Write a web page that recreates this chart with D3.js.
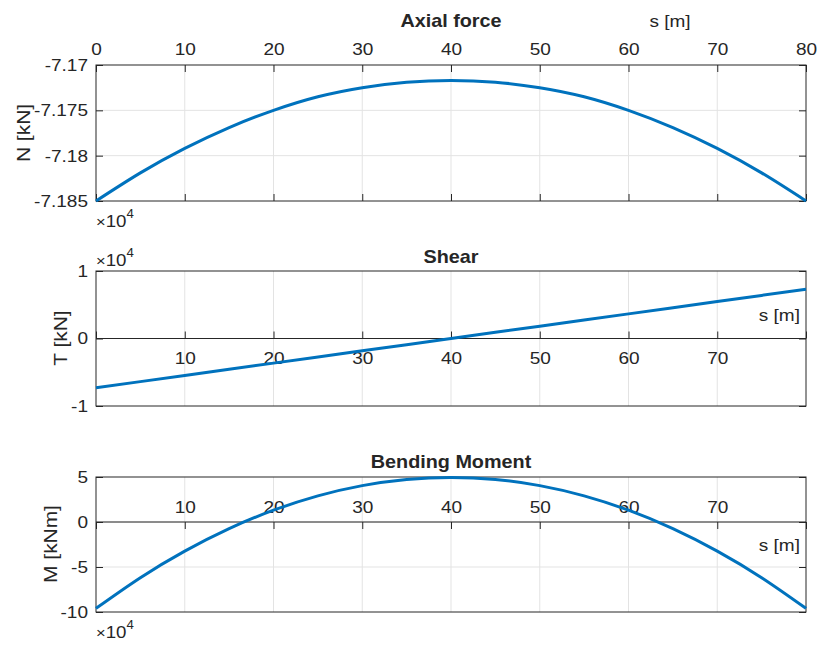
<!DOCTYPE html>
<html>
<head>
<meta charset="utf-8">
<script src="https://cdn.jsdelivr.net/npm/d3@7"></script>
<style>
  html, body { margin: 0; padding: 0; background: #ffffff; }
  svg { display: block; }
</style>
</head>
<body>
<svg id="chart" width="820" height="646"></svg>
<script>
// ---------------- data ----------------
const sValues = [0, 5, 10, 15, 20, 25, 30, 35, 40, 45, 50, 55, 60, 65, 70, 75, 80];            // s [m]
const axialForce = [-71850, -71819, -71792, -71769, -71750, -71735, -71725, -71719, -71717,
                    -71719, -71725, -71735, -71750, -71769, -71792, -71819, -71850];            // N [kN]
const sShear = [0, 10, 20, 30, 40, 50, 60, 70, 80];
const shear = [-7300, -5475, -3650, -1825, 0, 1825, 3650, 5475, 7300];                          // T [kN]
const bendingMoment = [-96000, -61900, -32340, -7340, 13120, 29040, 40410, 47230, 49500,
                       47230, 40410, 29040, 13120, -7340, -32340, -61900, -96000];              // M [kNm]

const xTicks = [0, 10, 20, 30, 40, 50, 60, 70, 80];
const nTicks = [-71850, -71800, -71750, -71700];
const nTickLabels = ["-7.185", "-7.18", "-7.175", "-7.17"];
const tTicks = [-10000, 0, 10000];
const tTickLabels = ["-1", "0", "1"];
const mTicks = [-100000, -50000, 0, 50000];
const mTickLabels = ["-10", "-5", "0", "5"];
const titles = ["Axial force", "Shear", "Bending Moment"];
const yLabels = ["N [kN]", "T [kN]", "M [kNm]"];
const xLabel = "s [m]";

// ---------------- style ----------------
const AX = "#262626", TXT = "#262626", GRID = "#e3e3e3", LINE = "#0072BD";
const FONT = "'Liberation Sans', Arial, Helvetica, sans-serif";
const FS = 17, SX = 1.12, TICK = 7;

const svg = d3.select("#chart");
const x = d3.scaleLinear().domain([0, 80]).range([96, 806]);
const L = 96, R = 806;

function stretchText(sel) {
  sel.attr("fill", TXT).attr("font-size", FS).attr("font-family", FONT);
  sel.each(function () {
    const t = d3.select(this);
    const tx = +t.attr("x") || 0;
    t.attr("transform", `translate(${tx},0) scale(${SX},1)`).attr("x", 0);
  });
}
function styleAxis(g) {
  g.select(".domain").remove();
  g.selectAll(".tick line").attr("stroke", AX).attr("stroke-width", 1);
  stretchText(g.selectAll(".tick text"));
}
function label(txt, px, py, opts = {}) {
  return svg.append("text")
    .attr("transform", `translate(${px},${py}) scale(${opts.sx || SX},1)`)
    .attr("text-anchor", opts.anchor || "middle")
    .attr("font-size", opts.fs || FS)
    .attr("font-weight", opts.bold ? "bold" : "normal")
    .attr("font-family", FONT)
    .attr("fill", TXT)
    .text(txt);
}
function yLabel(txt, px, py) {
  svg.append("text")
    .attr("transform", `translate(${px},${py}) rotate(-90) scale(1.1,1)`)
    .attr("text-anchor", "middle")
    .attr("font-size", 19).attr("font-family", FONT).attr("fill", TXT)
    .text(txt);
}
function exponent(px, py) {
  const t = svg.append("text")
    .attr("transform", `translate(${px},${py}) scale(1.1,1)`)
    .attr("font-size", 17).attr("font-family", FONT).attr("fill", TXT);
  t.append("tspan").attr("font-size", 15).text("\u00D7");
  t.append("tspan").text("10");
  t.append("tspan").attr("font-size", 12).attr("dy", -9).text("4");
}
function grid(y, yTicks) {
  const [y0, y1] = y.range();
  svg.append("g").selectAll("line").data(xTicks.filter(d => d > 0 && d < 80)).join("line")
    .attr("x1", d => x(d)).attr("x2", d => x(d)).attr("y1", y0).attr("y2", y1)
    .attr("stroke", GRID).attr("stroke-width", 1);
  const dom = y.domain();
  svg.append("g").selectAll("line").data(yTicks.filter(d => d > dom[0] && d < dom[1])).join("line")
    .attr("x1", L).attr("x2", R).attr("y1", d => y(d)).attr("y2", d => y(d))
    .attr("stroke", GRID).attr("stroke-width", 1);
}
function box(y) {
  const [yb, yt] = y.range();
  svg.append("rect").attr("x", L).attr("y", yt).attr("width", R - L).attr("height", yb - yt)
    .attr("fill", "none").attr("stroke", AX).attr("stroke-width", 1);
}
function yAxes(y, ticks, labels) {
  const gl = svg.append("g").attr("transform", `translate(${L},0)`)
    .call(d3.axisLeft(y).tickValues(ticks).tickSize(-TICK).tickPadding(8)
      .tickFormat((d, i) => labels[i]));
  styleAxis(gl);
  const gr = svg.append("g").attr("transform", `translate(${R},0)`)
    .call(d3.axisRight(y).tickValues(ticks).tickSize(-TICK).tickFormat(""));
  styleAxis(gr);
}
function curve(sArr, vArr, y) {
  const line = d3.line().x(d => x(d[0])).y(d => y(d[1])).curve(d3.curveNatural);
  svg.append("path").datum(sArr.map((s, i) => [s, vArr[i]]))
    .attr("d", line).attr("fill", "none").attr("stroke", LINE)
    .attr("stroke-width", 3).attr("stroke-linejoin", "round");
}

// ---------------- panel 1: axial force ----------------
const yN = d3.scaleLinear().domain([-71850, -71700]).range([201, 65]);
grid(yN, nTicks);
box(yN);
styleAxis(svg.append("g").attr("transform", `translate(0,65)`)
  .call(d3.axisTop(x).tickValues(xTicks).tickSize(-TICK).tickPadding(10).tickFormat(d3.format("d"))));
styleAxis(svg.append("g").attr("transform", `translate(0,201)`)
  .call(d3.axisBottom(x).tickValues(xTicks).tickSize(-TICK).tickFormat("")));
yAxes(yN, nTicks, nTickLabels);
curve(sValues, axialForce, yN);
label(titles[0], 451, 27, { bold: true, sx: 1.1, fs: 18 });
label(xLabel, 670, 27);
yLabel(yLabels[0], 30, 133);
exponent(96, 227);

// ---------------- panel 2: shear ----------------
const yT = d3.scaleLinear().domain([-10000, 10000]).range([406, 271]);
grid(yT, tTicks);
box(yT);
styleAxis(svg.append("g").attr("transform", `translate(0,${yT(0)})`)
  .call(d3.axisBottom(x).tickValues(xTicks).tickSize(-TICK).tickPadding(13)
    .tickFormat(d => (d === 0 || d === 80) ? "" : d)));
svg.append("line").attr("x1", L).attr("x2", R).attr("y1", yT(0)).attr("y2", yT(0))
  .attr("stroke", AX).attr("stroke-width", 1);
yAxes(yT, tTicks, tTickLabels);
curve(sShear, shear, yT);
label(titles[1], 451, 263, { bold: true, sx: 1.1, fs: 18 });
label(xLabel, 800, 321, { anchor: "end" });
yLabel(yLabels[1], 67, 338);
exponent(96, 266);

// ---------------- panel 3: bending moment ----------------
const yM = d3.scaleLinear().domain([-100000, 50000]).range([612, 477]);
grid(yM, mTicks);
box(yM);
styleAxis(svg.append("g").attr("transform", `translate(0,${yM(0)})`)
  .call(d3.axisTop(x).tickValues(xTicks).tickSize(-TICK).tickPadding(9)
    .tickFormat(d => (d === 0 || d === 80) ? "" : d)));
svg.append("line").attr("x1", L).attr("x2", R).attr("y1", yM(0)).attr("y2", yM(0))
  .attr("stroke", AX).attr("stroke-width", 1);
yAxes(yM, mTicks, mTickLabels);
curve(sValues, bendingMoment, yM);
label(titles[2], 451, 468, { bold: true, sx: 1.1, fs: 18 });
label(xLabel, 800, 551, { anchor: "end" });
yLabel(yLabels[2], 57, 544);
exponent(96, 638);
</script>
</body>
</html>
